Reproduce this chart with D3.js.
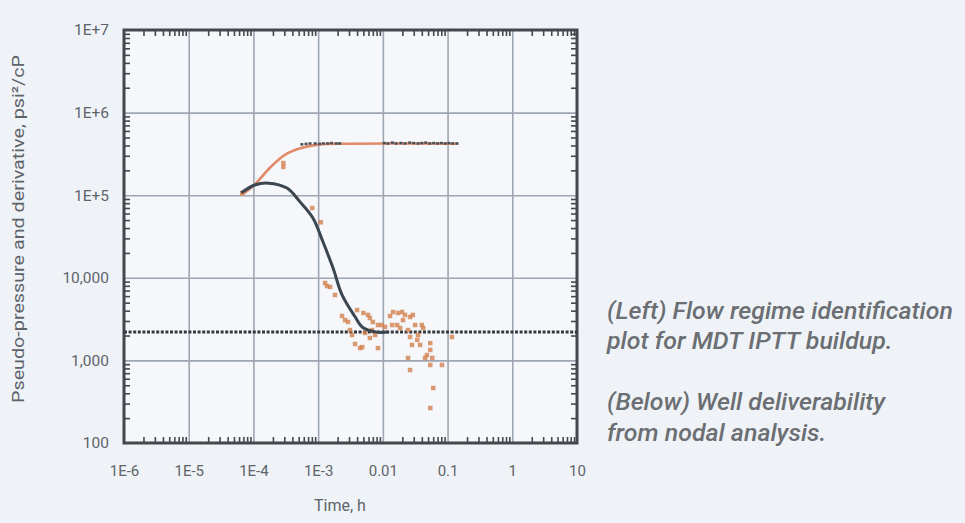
<!DOCTYPE html>
<meta charset="utf-8">
<head>
<style>
  body { margin: 0; background: #eff3f7; }
  svg { display: block; }
  .lbl { font-family: Roboto, "Open Sans", sans-serif; fill: #5e636a; }
  .caption { font-family: Roboto, "Open Sans", sans-serif; font-style: italic; font-weight: 500; fill: #6b6e72; font-size: 24px; }
</style>
</head>
<body>
<script src="https://cdnjs.cloudflare.com/ajax/libs/d3/7.8.5/d3.min.js"></script>
<script>

// tick labels
const xTicks = [1e-6, 1e-5, 1e-4, 1e-3, 0.01, 0.1, 1, 10];
const xTickLabels = ["1E-6", "1E-5", "1E-4", "1E-3", "0.01", "0.1", "1", "10"];
const yTicks = [100, 1000, 1e4, 1e5, 1e6, 1e7];
const yTickLabels = ["100", "1,000", "10,000", "1E+5", "1E+6", "1E+7"];

// model curves
const pressModelT = [6.5e-5, 1.05e-4, 1.7e-4, 3.3e-4, 5.25e-4, 8.3e-4, 1.19e-3, 1.7e-3, 2.34e-3, 3.7e-3, 4.9e-3, 8e-3, 0.012];
const pressModelV = [1.07e5, 1.33e5, 1.4e5, 1.22e5, 8.3e4, 5.3e4, 2.71e4, 1.31e4, 6200, 3400, 2500, 2200, 2200];
const derivModelT = [6.5e-5, 1.05e-4, 1.8e-4, 3.1e-4, 5.3e-4, 1e-3, 3.1e-3, 0.145];
const derivModelV = [1.0e5, 1.35e5, 2.15e5, 3.1e5, 3.7e5, 4.1e5, 4.2e5, 4.2e5];

// flat pressure line
const flatT = [1e-6, 10];
const flatV = [2200, 2200];

// measured points on the derivative plateau (dark)
const plateauT = [5.6e-4, 6.5e-4, 7.5e-4, 9e-4, 1.05e-3, 1.2e-3, 1.4e-3, 1.6e-3, 1.9e-3, 2.15e-3,
  0.0105, 0.012, 0.014, 0.016, 0.019, 0.022, 0.026, 0.03, 0.035, 0.04, 0.046, 0.053, 0.061, 0.07, 0.08, 0.092, 0.105, 0.12, 0.14];
const plateauV = [4.1e5, 4.15e5, 4.2e5, 4.2e5, 4.15e5, 4.2e5, 4.2e5, 4.25e5, 4.2e5, 4.2e5,
  4.25e5, 4.2e5, 4.3e5, 4.2e5, 4.25e5, 4.2e5, 4.3e5, 4.25e5, 4.2e5, 4.25e5, 4.3e5, 4.2e5, 4.25e5, 4.2e5, 4.25e5, 4.2e5, 4.25e5, 4.2e5, 4.2e5];

// measured scatter (orange)
const scatterT = [6.7e-5, 2.9e-4, 2.9e-4, 8.1e-4, 1.1e-3, 1.28e-3, 1.53e-3, 1.37e-3, 1.82e-3, 2.34e-3,
  2.61e-3, 2.9e-3, 3.1e-3, 3.34e-3, 3.72e-3, 4.45e-3, 4.0e-3, 5.0e-3, 5.9e-3, 6.3e-3,
  7.0e-3, 8.4e-3, 9.7e-3, 0.0108, 5.3e-3, 6.8e-3, 7.6e-3, 6.3e-3, 4.8e-3, 8.4e-3,
  0.0129, 0.0144, 0.0172, 0.0198, 0.022, 0.0263, 0.029, 0.0139, 0.0166, 0.0185,
  0.0245, 0.0315, 0.040, 0.042, 0.0263, 0.034, 0.0376, 0.054, 0.054, 0.0282,
  0.048, 0.0245, 0.045, 0.058, 0.054, 0.082, 0.0263, 0.060, 0.054, 0.117,
  0.0205, 0.035];
const scatterV = [1.06e5, 2.45e5, 2.2e5, 7.0e4, 4.7e4, 8650, 7750, 7950, 6200, 3450,
  3080, 2920, 2330, 2030, 1580, 1410, 4070, 3750, 3550, 3260,
  2920, 2680, 2680, 2540, 2150, 2330, 2030, 1870, 1450, 1410,
  3450, 3850, 3750, 3850, 3550, 3350, 3550, 2680, 2680, 2470,
  2330, 2680, 2680, 2470, 1920, 1770, 1540, 1620, 1340, 1540,
  1160, 1070, 1070, 1070, 880, 880, 765, 463, 265, 1920,
  3080, 2030];

const captionLines = ["(Left) Flow regime identification", "plot for MDT IPTT buildup.", "", "(Below) Well deliverability", "from nodal analysis."];

const W = 965, H = 523;
const plot = {left: 124, right: 577, top: 30, bottom: 443};

const svg = d3.select("body").append("svg")
  .attr("width", W)
  .attr("height", H);

const x = d3.scaleLog().domain([1e-6, 10]).range([plot.left, plot.right]);
const y = d3.scaleLog().domain([100, 1e7]).range([plot.bottom, plot.top]);

const pw = plot.right - plot.left, ph = plot.bottom - plot.top;

svg.append("rect")
  .attr("x", plot.left).attr("y", plot.top)
  .attr("width", pw).attr("height", ph)
  .attr("fill", "#f5f7fa");

// grid
svg.append("g")
  .attr("transform", `translate(0,${plot.bottom})`)
  .call(d3.axisBottom(x).tickValues(xTicks.slice(1, -1)).tickSize(-ph).tickFormat(""))
  .call(g => g.select(".domain").remove())
  .selectAll("line").attr("stroke", "#9ea6b2").attr("stroke-width", 1.6);

svg.append("g")
  .attr("transform", `translate(${plot.left},0)`)
  .call(d3.axisLeft(y).tickValues(yTicks.slice(1, -1)).tickSize(-pw).tickFormat(""))
  .call(g => g.select(".domain").remove())
  .selectAll("line").attr("stroke", "#9ea6b2").attr("stroke-width", 1.6);

// minor ticks on all four sides
const minorX = [];
for (let e = -6; e < 1; e++) for (let m = 2; m <= 9; m++) minorX.push(m * Math.pow(10, e));
const minorY = [];
for (let e = 2; e < 7; e++) for (let m = 2; m <= 9; m++) minorY.push(m * Math.pow(10, e));

function styleTicks(g) {
  g.select(".domain").remove();
  g.selectAll("line").attr("stroke", "#45494e").attr("stroke-width", 1.6);
}

svg.append("g").attr("transform", `translate(0,${plot.bottom})`)
  .call(d3.axisBottom(x).tickValues(minorX).tickSize(-6).tickFormat("")).call(styleTicks);
svg.append("g").attr("transform", `translate(0,${plot.top})`)
  .call(d3.axisTop(x).tickValues(minorX).tickSize(-6).tickFormat("")).call(styleTicks);
svg.append("g").attr("transform", `translate(${plot.left},0)`)
  .call(d3.axisLeft(y).tickValues(minorY).tickSize(-6).tickFormat("")).call(styleTicks);
svg.append("g").attr("transform", `translate(${plot.right},0)`)
  .call(d3.axisRight(y).tickValues(minorY).tickSize(-6).tickFormat("")).call(styleTicks);

// frame
svg.append("rect")
  .attr("x", plot.left).attr("y", plot.top)
  .attr("width", pw).attr("height", ph)
  .attr("fill", "none").attr("stroke", "#44484d").attr("stroke-width", 3);

// tick labels
svg.append("g").attr("transform", `translate(0,${plot.bottom})`)
  .call(d3.axisBottom(x).tickValues(xTicks).tickSize(0).tickPadding(22)
    .tickFormat((d, i) => xTickLabels[i]))
  .call(g => g.select(".domain").remove())
  .selectAll("text").attr("class", "lbl").style("font-size", "15px");

svg.append("g").attr("transform", `translate(${plot.left},0)`)
  .call(d3.axisLeft(y).tickValues(yTicks).tickSize(0).tickPadding(15)
    .tickFormat((d, i) => yTickLabels[i]))
  .call(g => g.select(".domain").remove())
  .selectAll("text").attr("class", "lbl").style("font-size", "15.5px");

// axis titles
svg.append("text").attr("class", "lbl")
  .attr("x", 340).attr("y", 511)
  .attr("text-anchor", "middle")
  .style("font-size", "16px")
  .text("Time, h");

svg.append("text").attr("class", "lbl")
  .attr("transform", "translate(24,229) rotate(-90)")
  .attr("text-anchor", "middle")
  .attr("textLength", 348)
  .attr("lengthAdjust", "spacingAndGlyphs")
  .style("font-size", "17px")
  .text("Pseudo-pressure and derivative, psi²/cP");

// flat dotted pressure line
const line = d3.line().x(d => x(d[0])).y(d => y(d[1]));
svg.append("path")
  .attr("d", line(d3.zip(flatT, flatV)))
  .attr("fill", "none")
  .attr("stroke", "#33383d")
  .attr("stroke-width", 3)
  .attr("stroke-dasharray", "3,1.6");

// scatter
svg.append("g").selectAll("rect")
  .data(d3.zip(scatterT, scatterV))
  .join("rect")
    .attr("x", d => x(d[0]) - 2.25)
    .attr("y", d => y(d[1]) - 2.25)
    .attr("width", 4.5).attr("height", 4.5)
    .attr("fill", "#d3814f")
    .attr("opacity", 0.8);

// model curves
const smooth = d3.line().x(d => x(d[0])).y(d => y(d[1])).curve(d3.curveCatmullRom);
svg.append("path")
  .attr("d", smooth(d3.zip(derivModelT, derivModelV)))
  .attr("fill", "none")
  .attr("stroke", "#e08a6a")
  .attr("stroke-width", 2.6);

svg.append("path")
  .attr("d", smooth(d3.zip(pressModelT, pressModelV)))
  .attr("fill", "none")
  .attr("stroke", "#3b4650")
  .attr("stroke-width", 3);

// plateau points
svg.append("g").selectAll("rect")
  .data(d3.zip(plateauT, plateauV))
  .join("rect")
    .attr("x", d => x(d[0]) - 1.5)
    .attr("y", d => y(d[1]) - 1.5)
    .attr("width", 3).attr("height", 2.5)
    .attr("fill", "#4a5058");

// caption, squeezed/stretched so the first line spans the same width as in the original
const cap = svg.append("g").attr("transform", "translate(607,0)");
const capText = cap.selectAll("text")
  .data(captionLines)
  .join("text")
    .attr("class", "caption")
    .attr("x", 0)
    .attr("y", (d, i) => 319 + i * 30.5)
    .text(d => d);
const w0 = capText.node().getComputedTextLength();
const sx = 346 / w0;
cap.attr("transform", `translate(607,0) scale(${sx},1)`);

</script>
</body>
